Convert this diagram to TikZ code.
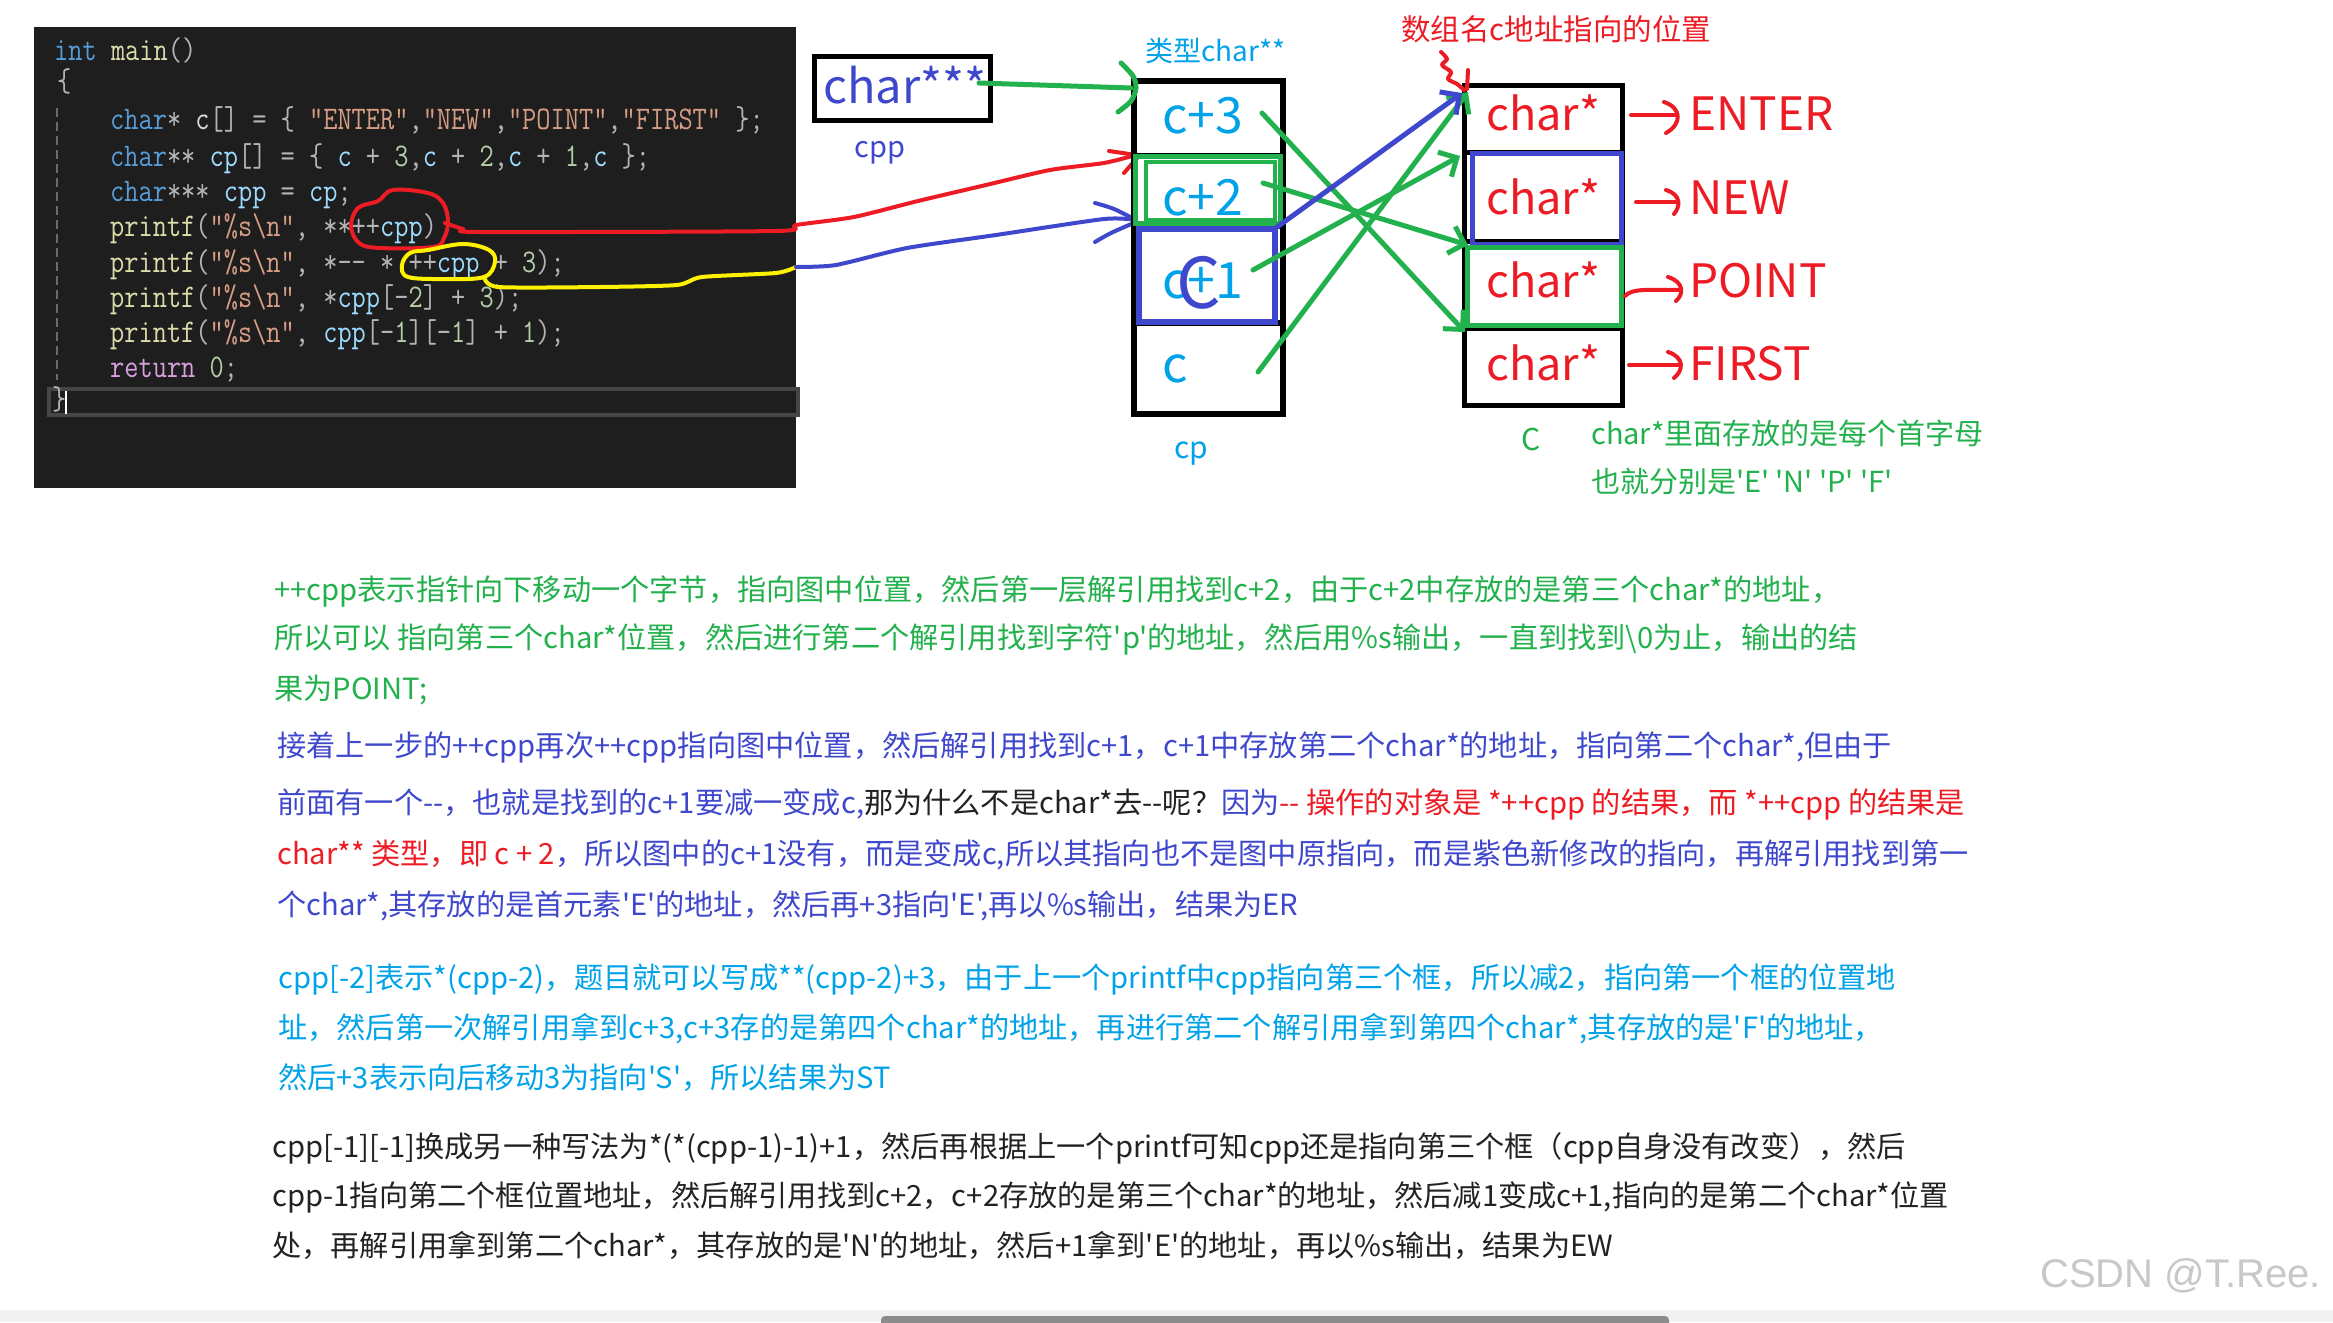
\documentclass[tikz,border=0pt]{standalone}
\usepackage{fontspec}
\usepackage{graphicx}
\usetikzlibrary{arrows.meta}
\newfontfamily\cjk{Noto Sans CJK SC}
\newfontfamily\wmfont{Liberation Sans}
\definecolor{pgreen}{HTML}{22B14C}
\definecolor{pblue}{HTML}{3F48CC}
\definecolor{pred}{HTML}{ED1C24}
\definecolor{pyellow}{HTML}{FFF200}
\definecolor{pcyan}{HTML}{00A2E8}
\definecolor{pblack}{HTML}{222222}
\definecolor{codebg}{HTML}{1E1E1E}
\definecolor{hlgray}{HTML}{464646}
\definecolor{guide}{HTML}{6A6A6A}
\definecolor{ckw}{HTML}{569CD6}
\definecolor{cfn}{HTML}{DCDCAA}
\definecolor{cstr}{HTML}{D69D85}
\definecolor{cnum}{HTML}{B5CEA8}
\definecolor{cvar}{HTML}{9CDCFE}
\definecolor{cop}{HTML}{B4B4B4}
\definecolor{cpl}{HTML}{DADADA}
\definecolor{cret}{HTML}{D8A0DF}
\definecolor{wmgray}{HTML}{C8C8C8}
\definecolor{stripgray}{HTML}{F1F1F1}
\definecolor{bargray}{HTML}{8C8C8C}
\newcommand\TKkw[1]{\textcolor{ckw}{#1}}
\newcommand\TKfn[1]{\textcolor{cfn}{#1}}
\newcommand\TKstr[1]{\textcolor{cstr}{#1}}
\newcommand\TKnum[1]{\textcolor{cnum}{#1}}
\newcommand\TKvar[1]{\textcolor{cvar}{#1}}
\newcommand\TKop[1]{\textcolor{cop}{#1}}
\newcommand\TKpl[1]{\textcolor{cpl}{#1}}
\newcommand\TKret[1]{\textcolor{cret}{#1}}
\newcommand\codetext[1]{\scalebox{0.836}[1]{#1}}
\begin{document}
\begin{tikzpicture}[x=1pt,y=-1pt,
  codeln/.style={anchor=base west, inner sep=0pt, font=\ttfamily\fontsize{33}{33}\selectfont},
  para/.style={anchor=base west, inner sep=0pt, font=\cjk\fontsize{29.2}{29.2}\selectfont},
  lbl/.style={inner sep=0pt, font=\cjk\fontsize{#1}{#1}\selectfont},
  hand/.style={line width=5pt, line cap=round, line join=round},
  thin hand/.style={line width=4pt, line cap=round, line join=round},
  garrow/.style={hand, draw=pgreen, -{Straight Barb[length=14pt,width=28pt]}},
  barrow/.style={hand, draw=pblue, -{Straight Barb[length=14pt,width=28pt]}},
  blkbox/.style={draw=black, line width=6pt, inner sep=0pt},
]
\useasboundingbox (0,0) rectangle (2333,1322);
\fill[white] (0,0) rectangle (2333,1322);

% ---------------- code panel ----------------
\node[fill=codebg, anchor=north west, inner sep=0pt, minimum width=762, minimum height=461] (codebox) at (34,27) {};
\draw[hlgray, line width=4pt] (49,389) rectangle (798,415);
\draw[guide, line width=2pt, dash pattern=on 9pt off 5pt] (57,108) -- (57,380);
\node[codeln] (l1) at (54,61) {\codetext{\TKkw{int} \TKfn{main}\TKop{()}}};
\node[codeln] (l2) at (57,92) {\codetext{\TKop{\{}}};
\node[codeln] (l3) at (110,129) {\codetext{\TKkw{char}\TKop{*} \TKpl{c}\TKop{[]} \TKop{=} \TKop{\{} \TKstr{"ENTER"}\TKop{,}\TKstr{"NEW"}\TKop{,}\TKstr{"POINT"}\TKop{,}\TKstr{"FIRST"} \TKop{\};}}};
\node[codeln] (l4) at (110,166) {\codetext{\TKkw{char}\TKop{**} \TKvar{cp}\TKop{[]} \TKop{=} \TKop{\{} \TKvar{c} \TKop{+} \TKnum{3}\TKop{,}\TKvar{c} \TKop{+} \TKnum{2}\TKop{,}\TKvar{c} \TKop{+} \TKnum{1}\TKop{,}\TKvar{c} \TKop{\};}}};
\node[codeln] (l5) at (110,201) {\codetext{\TKkw{char}\TKop{***} \TKvar{cpp} \TKop{=} \TKvar{cp}\TKop{;}}};
\node[codeln] (l6) at (110,236) {\codetext{\TKfn{printf}\TKop{(}\TKstr{"\%s\textbackslash n"}\TKop{,} \TKop{**++}\TKvar{cpp}\TKop{)}}};
\node[codeln] (l7) at (110,272) {\codetext{\TKfn{printf}\TKop{(}\TKstr{"\%s\textbackslash n"}\TKop{,} \TKop{*--} \TKop{*} \TKop{++}\TKvar{cpp} \TKop{+} \TKnum{3}\TKop{);}}};
\node[codeln] (l8) at (110,307) {\codetext{\TKfn{printf}\TKop{(}\TKstr{"\%s\textbackslash n"}\TKop{,} \TKop{*}\TKvar{cpp}\TKop{[-}\TKnum{2}\TKop{]} \TKop{+} \TKnum{3}\TKop{);}}};
\node[codeln] (l9) at (110,342) {\codetext{\TKfn{printf}\TKop{(}\TKstr{"\%s\textbackslash n"}\TKop{,} \TKvar{cpp}\TKop{[-}\TKnum{1}\TKop{][-}\TKnum{1}\TKop{]} \TKop{+} \TKnum{1}\TKop{);}}};
\node[codeln] (l10) at (110,377) {\codetext{\TKret{return} \TKnum{0}\TKop{;}}};
\node[codeln] (l11) at (52,409) {\codetext{\TKop{\}}}};
\draw[white, line width=2pt] (66,391) -- (66,414);

% red circle and red connector
\draw[pred, thin hand] plot[smooth cycle, tension=0.6] coordinates {(393,190) (428,193) (443,203) (448,221) (444,238) (433,247) (380,248) (359,243) (351,226) (358,208) (378,201)};
\draw[pred, thin hand] plot[smooth, tension=0.4] coordinates {(445,223) (463,229) (480,232) (776,231) (796,225) (854,217) (918,201) (986,185) (1050,170) (1104,163) (1136,155)};
\draw[pred, thin hand] (1109,151) -- (1136,155);
\draw[pred, thin hand] (1124,173) -- (1138,157);

% yellow ellipse and yellow / blue connector
\draw[pyellow, thin hand] plot[smooth cycle, tension=0.6] coordinates {(428,250) (463,244) (489,250) (495,262) (484,277) (445,279) (408,277) (402,265) (410,253)};
\draw[pyellow, thin hand] plot[smooth, tension=0.4] coordinates {(484,277) (498,287) (600,287) (677,285) (702,277) (776,273) (796,267)};
\draw[pblue, thin hand] plot[smooth, tension=0.4] coordinates {(796,267) (836,265) (907,248) (996,235) (1104,219) (1136,220)};
\draw[pblue, thin hand] plot[smooth] coordinates {(1095,203) (1114,209) (1136,220)};
\draw[pblue, thin hand] plot[smooth] coordinates {(1095,242) (1111,233) (1136,222)};

% ---------------- cpp box ----------------
\node[blkbox, line width=5pt, minimum width=176, minimum height=64] (cppbox) at (902,88.5) {};
\node[lbl=47, text=pblue, anchor=base] (cppstar) at (905,103) {char***};
\node[lbl=29, text=pblue, anchor=base] (cpplabel) at (880,157) {cpp};

% ---------------- cp array ----------------
\node[blkbox, minimum width=149, minimum height=333] (cpbox) at (1208.5,247.5) {};
\draw[black, line width=5pt] (cpbox.west |- 0,155) -- (cpbox.east |- 0,155);
\draw[black, line width=5pt] (cpbox.west |- 0,226) -- (cpbox.east |- 0,226);
\draw[black, line width=6pt] (cpbox.west |- 0,323) -- (cpbox.east |- 0,323);
\draw[pgreen, line width=5pt] (1135,156) rectangle (1280,223);
\draw[pgreen, line width=4pt] (1146,162) rectangle (1275,220);
\draw[pblue, line width=6pt] (1139,229) rectangle (1275,322);
\node[lbl=28, text=pcyan, anchor=base west] (cptype) at (1145,62) {类型char**};
\node[lbl=50, text=pcyan, anchor=base west] (t3) at (1162,133) {c+3};
\node[lbl=50, text=pcyan, anchor=base west] (t2) at (1162,215) {c+2};
\node[lbl=50, text=pcyan, anchor=base west] (t1) at (1162,298) {c+1};
\node[lbl=50, text=pcyan, anchor=base west] (t0) at (1162,382) {c};
\node[lbl=70, text=pblue] (bigC) at (1199,283) {C};
\node[lbl=30, text=pcyan, anchor=base] (cplabel) at (1191,458) {cp};

% green arrow cpp -> cp
\draw[pgreen, hand] (979,83) -- (cpbox.west |- 0,88);
\draw[pgreen, hand] plot[smooth] coordinates {(1121,63) (1133,76) (1136,88) (1131,101) (1118,112)};

% ---------------- c array ----------------
\node[blkbox, line width=5pt, minimum width=158, minimum height=320] (cbox) at (1543,245) {};
\draw[black, line width=5pt] (cbox.west |- 0,152) -- (cbox.east |- 0,152);
\draw[black, line width=5pt] (cbox.west |- 0,241) -- (cbox.east |- 0,241);
\draw[black, line width=5pt] (cbox.west |- 0,328) -- (cbox.east |- 0,328);
\draw[pblue, line width=5pt] (1472,153) rectangle (1621,244);
\draw[pgreen, line width=5pt] (1467,247) rectangle (1621,325);
\node[lbl=45, text=pred, anchor=base west] (cs0) at (1486,130) {char*};
\node[lbl=45, text=pred, anchor=base west] (cs1) at (1486,214) {char*};
\node[lbl=45, text=pred, anchor=base west] (cs2) at (1486,297) {char*};
\node[lbl=45, text=pred, anchor=base west] (cs3) at (1486,380) {char*};
\node[lbl=46, text=pred, anchor=base west] (s0) at (1689,130) {ENTER};
\node[lbl=46, text=pred, anchor=base west] (s1) at (1689,214) {NEW};
\node[lbl=46, text=pred, anchor=base west] (s2) at (1689,297) {POINT};
\node[lbl=46, text=pred, anchor=base west] (s3) at (1689,380) {FIRST};
% hand-drawn arrows to strings
\draw[pred, thin hand] (1631,115) -- (1677,115);
\draw[pred, thin hand] (1664,102) .. controls (1682,108) and (1682,124) .. (1666,133);
\draw[pred, thin hand] (1636,202) -- (1678,202);
\draw[pred, thin hand] (1666,190) .. controls (1682,195) and (1680,207) .. (1674,214);
\draw[pred, thin hand] (1625,296) .. controls (1632,288) and (1650,290) .. (1680,290);
\draw[pred, thin hand] (1668,277) .. controls (1684,282) and (1684,294) .. (1676,301);
\draw[pred, thin hand] (1629,365) -- (1678,365);
\draw[pred, thin hand] (1668,352) .. controls (1684,357) and (1684,370) .. (1674,378);

\node[lbl=29.5, text=pred, anchor=base west] (ctitle) at (1401,41) {数组名c地址指向的位置};
\draw[pred, thin hand] plot[smooth, tension=0.5] coordinates {(1441,52) (1447,59) (1442,65) (1451,72) (1448,79) (1457,84) (1464,90)};
\draw[pred, thin hand] (1468,70) -- (1467,89);
\node[lbl=30, text=pgreen, anchor=base] (clabel) at (1531,450) {C};
\node[lbl=29, text=pgreen, anchor=base west] (cnote1) at (1591,444) {char*里面存放的是每个首字母};
\node[lbl=29, text=pgreen, anchor=base west] (cnote2) at (1591,492) {也就分别是'E' 'N' 'P' 'F'};

% green pointers cp -> c
\coordinate (a3) at (1262,113); \coordinate (a2) at (1263,183);
\coordinate (a1) at (1253,270); \coordinate (a0) at (1258,372);
\coordinate (b0) at (1468,92); \coordinate (b1) at (1460,156);
\coordinate (b2) at (1468,245); \coordinate (b3) at (1465,332);
\draw[garrow] (a3) -- (b3);
\draw[garrow] (a2) -- (b2);
\draw[garrow] (a1) -- (b1);
\draw[garrow] (a0) -- (b0);
\coordinate (bs) at (1273,230); \coordinate (be) at (1462,93);
\draw[barrow] (bs) -- (be);

% ---------------- explanation text ----------------
\node[para, text=pgreen] (p1a) at (274,600) {++cpp表示指针向下移动一个字节，指向图中位置，然后第一层解引用找到c+2，由于c+2中存放的是第三个char*的地址，};
\node[para, text=pgreen] (p1b) at (274,648) {所以可以 指向第三个char*位置，然后进行第二个解引用找到字符'p'的地址，然后用\%s输出，一直到找到\textbackslash 0为止，输出的结};
\node[para, text=pgreen] (p1c) at (274,699) {果为POINT;};

\node[para, text=pblue] (p2a) at (277,756) {接着上一步的++cpp再次++cpp指向图中位置，然后解引用找到c+1，c+1中存放第二个char*的地址，指向第二个char*,但由于};
\node[para, text=pblue] (p2b) at (277,813) {前面有一个--，也就是找到的c+1要减一变成c,\textcolor{pblack}{那为什么不是char*去--呢？}因为\textcolor{pred}{-- 操作的对象是 *++cpp 的结果，而 *++cpp 的结果是}};
\node[para, text=pblue] (p2c) at (277,864) {\textcolor{pred}{char** 类型，即 c + 2}，所以图中的c+1没有，而是变成c,所以其指向也不是图中原指向，而是紫色新修改的指向，再解引用找到第一};
\node[para, text=pblue] (p2d) at (277,915) {个char*,其存放的是首元素'E'的地址，然后再+3指向'E',再以\%s输出，结果为ER};

\node[para, text=pcyan] (p3a) at (278,988) {cpp[-2]表示*(cpp-2)，题目就可以写成**(cpp-2)+3，由于上一个printf中cpp指向第三个框，所以减2，指向第一个框的位置地};
\node[para, text=pcyan] (p3b) at (278,1038) {址，然后第一次解引用拿到c+3,c+3存的是第四个char*的地址，再进行第二个解引用拿到第四个char*,其存放的是'F'的地址，};
\node[para, text=pcyan] (p3c) at (278,1088) {然后+3表示向后移动3为指向'S'，所以结果为ST};

\node[para, text=pblack] (p4a) at (272,1157) {cpp[-1][-1]换成另一种写法为*(*(cpp-1)-1)+1，然后再根据上一个printf可知cpp还是指向第三个框（cpp自身没有改变），然后};
\node[para, text=pblack] (p4b) at (272,1206) {cpp-1指向第二个框位置地址，然后解引用找到c+2，c+2存放的是第三个char*的地址，然后减1变成c+1,指向的是第二个char*位置};
\node[para, text=pblack] (p4c) at (272,1256) {处，再解引用拿到第二个char*，其存放的是'N'的地址，然后+1拿到'E'的地址，再以\%s输出，结果为EW};

% watermark and scrollbar
\node[inner sep=0pt, anchor=base east, text=wmgray, font=\wmfont\fontsize{40}{40}\selectfont] (wm) at (2321,1287) {CSDN @T.Ree.};
\fill[stripgray] (0,1310) rectangle (2333,1322);
\fill[bargray, rounded corners=4pt] (881,1316) rectangle (1669,1330);
\end{tikzpicture}
\end{document}
